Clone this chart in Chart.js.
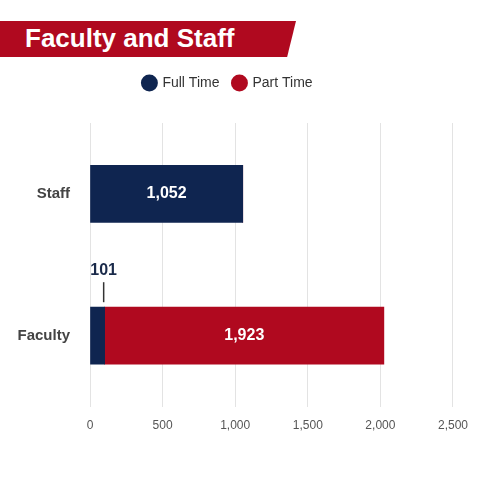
<!DOCTYPE html>
<html><head><meta charset="utf-8">
<script src="https://cdn.jsdelivr.net/npm/chart.js@4/dist/chart.umd.min.js"></script>
<style>
html,body{margin:0;padding:0;background:#fff;width:480px;height:480px;overflow:hidden;font-family:"Liberation Sans Narrow","Liberation Sans",Arial,sans-serif}
#banner{position:absolute;left:0;top:21px;width:296px;height:36px;background:#b0091f;clip-path:polygon(0 0,100% 0,97% 100%,0 100%)}
#banner span{position:absolute;left:25px;top:2px;color:#fff;font-weight:bold;font-size:26px;font-family:"Liberation Sans Narrow","Liberation Sans",Arial}
#wrap{position:absolute;left:0;top:50px;width:480px;height:410px}
</style></head><body>
<div id="banner"><span>Faculty and Staff</span></div>
<div id="wrap"><canvas id="c"></canvas></div>
<script>
const categories=["Staff","Faculty"];
const fullTime=[1052,101];
const partTime=[0,1923];
const ticks=[0,500,1000,1500,2000,2500];
const navy="#0f2550", red="#b0091f";
const F="'Liberation Sans Narrow','Liberation Sans', Arial";
const labels={id:'labels',afterDatasetsDraw(ch){
  const ctx=ch.ctx;ctx.save();
  ctx.font="bold 16px "+F;ctx.textAlign="center";ctx.textBaseline="middle";
  ch.data.datasets.forEach((ds,di)=>{
    ch.getDatasetMeta(di).data.forEach((b,i)=>{
      const v=ds.data[i]; if(!v) return;
      if(v<300){
        const x=b.x-1, top=b.y-b.height/2;
        ctx.strokeStyle="#333";ctx.lineWidth=1.5;ctx.beginPath();ctx.moveTo(x,top-5);ctx.lineTo(x,top-25);ctx.stroke();
        ctx.fillStyle="#1a2a4a";ctx.fillText(v.toLocaleString('en-US'),x,top-37);
      } else {
        ctx.fillStyle="#fff";ctx.fillText(v.toLocaleString('en-US'),(b.x+b.base)/2,b.y);
      }
    });
  });
  ctx.restore();
}};
const legendMargin={id:'lm',beforeInit(ch){const l=ch.legend;if(!l)return;const f=l.fit;l.fit=function(){f.call(this);this.height+=23;};}};
new Chart(document.getElementById('c'),{
  type:'bar',
  data:{labels:categories,datasets:[
    {label:'Full Time',data:fullTime,backgroundColor:navy,barThickness:57},
    {label:'Part Time',data:partTime,backgroundColor:red,barThickness:57}
  ]},
  options:{indexAxis:'y',responsive:true,maintainAspectRatio:false,animation:false,
    layout:{padding:{left:0,right:24,top:12,bottom:15}},
    plugins:{legend:{position:'top',labels:{usePointStyle:true,pointStyle:'circle',boxWidth:12,boxHeight:12,padding:14,color:'#333',font:{family:F,size:14}}},tooltip:{enabled:false}},
    scales:{
      x:{stacked:true,min:0,max:2500,afterBuildTicks:s=>{s.ticks=ticks.map(v=>({value:v}))},
        grid:{color:'#e3e3e3',drawTicks:false},border:{display:false},
        ticks:{padding:12,color:'#555',font:{size:12,family:F},callback:v=>v.toLocaleString('en-US')}},
      y:{stacked:true,afterFit:s=>{s.width=90;},grid:{display:false},border:{display:false},
        ticks:{padding:12,color:'#444',font:{size:15,weight:'bold',family:F}}}
    }},
  plugins:[labels,legendMargin]
});
</script></body></html>
